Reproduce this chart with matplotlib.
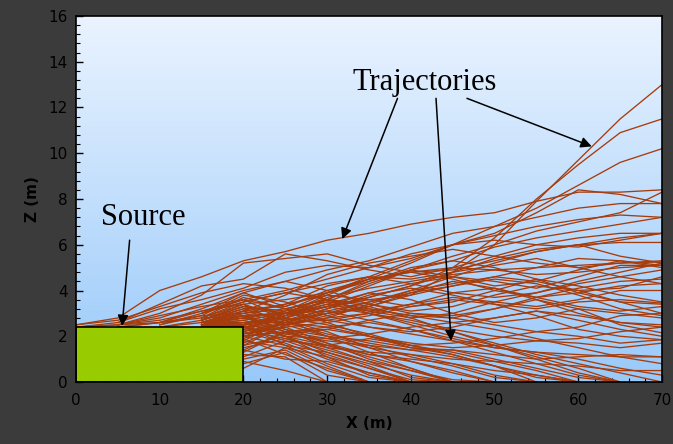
import numpy as np
import matplotlib.pyplot as plt
from matplotlib.patches import Rectangle
from matplotlib.ticker import MultipleLocator

nan = np.nan

# downwind distance of each sample (m)
x_full = [0, 5, 10, 15, 20, 25, 30, 35, 40, 45, 50, 55, 60, 65, 70]
x_edge = [15, 20, 25, 30, 35, 40, 45, 50, 55, 60, 65, 70]

# trajectories released over the roof of the source (z in m, on x_full)
roof_paths = [
    [2.5, 2.8, 4.0, 4.6, 5.3, 5.7, 6.2, 6.5, 6.9, 7.2, 7.4, 7.9, 8.3, 8.3, 8.4],
    [nan, 2.6, 3.4, 4.2, 4.5, 5.6, 5.3, 4.9, 4.6, 5.0, 5.5, 6.0, 6.3, 6.5, 6.5],
    [nan, 2.5, 3.0, 3.8, 5.2, 5.4, 5.6, 5.1, 4.8, 4.9, 5.3, 5.7, 6.0, 5.5, 5.2],
    [2.4, 2.6, 3.2, 3.6, 4.1, 4.8, 5.1, 5.0, 5.4, 6.0, 6.4, 6.8, 7.1, 7.3, 7.2],
    [nan, nan, 2.6, 3.2, 3.9, 4.4, 4.9, 5.3, 5.9, 6.5, 6.8, 7.2, 7.6, 7.8, 7.8],
    [nan, 2.5, 2.9, 3.3, 3.6, 4.0, 4.5, 5.0, 5.6, 6.0, 6.2, 6.0, 5.9, 6.2, 6.5],
    [nan, nan, 2.5, 3.0, 3.5, 3.9, 4.3, 4.6, 4.5, 4.8, 5.1, 5.4, 5.0, 4.6, 4.3],
    [nan, nan, nan, 2.6, 3.1, 3.8, 4.7, 5.2, 5.5, 5.8, 5.5, 5.2, 5.0, 5.2, 5.25],
    [2.4, 2.5, 2.7, 3.1, 3.4, 3.6, 3.9, 4.4, 4.9, 4.6, 4.2, 4.4, 4.9, 5.3, 5.1],
    [nan, 2.4, 2.6, 2.9, 3.0, 3.4, 3.8, 3.6, 3.3, 3.5, 4.0, 4.5, 4.2, 3.8, 3.5],
    [nan, nan, 2.4, 2.7, 3.3, 3.0, 2.7, 2.4, 2.1, 1.8, 1.5, 1.3, 1.2, 1.1, 1.1],
    [2.4, 2.5, 2.6, 2.8, 2.9, 2.5, 2.0, 1.6, 1.1, 0.7, 0.2, 0.0],
    [nan, 2.4, 2.6, 3.1, 3.6, 3.2, 2.6, 2.0, 1.5, 1.2, 0.7, 0.2, 0.0],
    [nan, nan, 2.5, 2.9, 3.8, 3.5, 2.9, 2.4, 2.2, 2.4, 2.8, 3.1, 2.9, 2.6, 2.5],
    [2.5, 2.7, 3.3, 3.9, 4.3, 4.1, 3.6, 3.0, 2.6, 2.2, 1.7, 1.2, 0.8, 0.4, 0.0],
    [nan, 2.5, 2.8, 3.4, 4.0, 4.4, 4.0, 3.4, 3.0, 2.9, 3.2, 3.7, 4.1, 4.4, 4.5],
    [nan, nan, nan, 2.5, 2.9, 2.2, 1.6, 1.2, 0.9, 0.5, 0.0],
    [nan, nan, 2.4, 2.6, 3.2, 2.7, 2.0, 1.3, 0.6, 0.0],
]

# trajectories crossing the downwind edge of the source (z in m, on x_edge)
edge_paths = [
    # lifted high by the end of the domain
    [2.5, 2.4, 2.7, 3.0, 3.3, 3.8, 4.8, 6.0, 7.9, 9.7, 11.5, 13.0],
    [2.5, 2.6, 2.6, 3.2, 3.7, 4.2, 5.0, 6.3, 8.0, 9.5, 10.9, 11.5],
    [2.6, 2.8, 3.1, 3.9, 4.5, 5.2, 6.0, 6.8, 7.6, 8.6, 9.6, 10.2],
    [2.7, 3.2, 3.3, 3.9, 4.6, 5.3, 6.0, 6.5, 7.4, 8.4, 8.2, 7.8],
    [2.6, 2.9, 3.0, 3.5, 4.2, 4.9, 5.5, 6.0, 6.6, 7.0, 7.4, 8.3],
    [2.4, 2.5, 2.9, 3.6, 4.4, 5.0, 5.3, 5.9, 6.3, 6.6, 6.9, 7.2],
    [2.0, 2.2, 2.6, 3.0, 3.5, 4.0, 4.6, 5.2, 5.7, 6.0, 6.1, 6.1],
    [2.8, 3.4, 2.8, 3.3, 3.7, 4.2, 4.8, 5.4, 5.8, 6.0, 6.3, 6.5],
    # middle of the plume
    [2.5, 2.7, 3.0, 3.7, 4.1, 4.4, 4.7, 4.9, 5.0, 5.1, 5.2, 5.3],
    [3.0, 3.6, 2.8, 3.3, 3.9, 4.3, 4.6, 4.4, 4.1, 4.6, 5.1, 5.1],
    [1.6, 2.0, 2.6, 3.1, 3.5, 3.9, 4.2, 4.6, 5.0, 5.4, 5.3, 5.0],
    [2.4, 2.5, 3.0, 3.8, 4.5, 4.8, 4.5, 4.0, 3.7, 3.9, 4.2, 4.3],
    [1.4, 1.8, 2.7, 3.2, 3.8, 4.1, 3.8, 3.4, 3.2, 3.5, 3.6, 3.45],
    [2.6, 3.0, 3.2, 3.6, 3.4, 3.1, 3.3, 3.8, 4.2, 4.0, 3.5, 3.0],
    [2.0, 2.3, 2.9, 3.4, 3.9, 3.6, 3.0, 2.6, 2.8, 3.2, 3.0, 2.8],
    [1.2, 1.6, 2.5, 2.9, 3.3, 3.9, 4.4, 4.1, 3.6, 3.0, 2.6, 2.4],
    [2.7, 3.3, 3.1, 3.5, 3.2, 2.9, 2.8, 3.2, 3.6, 3.2, 2.5, 2.15],
    [1.8, 2.1, 2.4, 2.6, 2.9, 3.3, 3.6, 3.4, 2.9, 2.3, 2.0, 1.85],
    [1.0, 1.4, 2.2, 2.3, 2.7, 3.0, 2.8, 2.5, 2.2, 2.4, 2.9, 3.0],
    [3.0, 3.9, 3.3, 4.0, 4.5, 4.8, 5.0, 4.9, 4.7, 4.8, 5.0, 5.1],
    [2.1, 2.4, 2.5, 2.8, 3.4, 4.0, 4.3, 4.6, 4.4, 4.0, 4.1, 4.6],
    [2.6, 3.1, 3.4, 4.2, 4.6, 4.3, 3.9, 3.7, 3.9, 4.4, 4.8, 5.2],
    [2.4, 2.6, 2.8, 3.6, 4.3, 4.9, 5.3, 5.0, 4.5, 3.9, 3.5, 3.4],
    [2.5, 2.9, 3.0, 3.3, 3.6, 3.8, 4.2, 4.5, 4.3, 3.8, 3.2, 2.9],
    [1.5, 1.9, 2.6, 2.7, 3.0, 3.4, 3.7, 3.5, 3.3, 3.6, 4.0, 4.0],
    [2.5, 2.8, 2.5, 3.0, 3.2, 2.9, 2.6, 2.8, 3.1, 2.7, 2.3, 2.0],
    [2.8, 3.5, 3.9, 3.6, 3.1, 2.8, 3.0, 3.5, 3.9, 4.3, 4.6, 4.9],
    [1.9, 2.2, 3.0, 3.4, 3.1, 3.4, 3.9, 4.1, 3.7, 3.3, 3.1, 3.3],
    # sinking towards the ground
    [2.5, 2.4, 1.8, 1.2, 0.6, 0.0],
    [1.9, 1.8, 1.5, 0.7, 0.0],
    [1.5, 1.2, 1.1, 0.0],
    [2.6, 2.6, 2.0, 1.6, 1.1, 0.6, 0.0],
    [2.1, 2.0, 2.2, 1.9, 1.5, 1.2, 0.8, 0.3, 0.0],
    [2.6, 2.9, 2.3, 2.0, 1.8, 1.5, 1.4, 1.0, 0.6, 0.2, 0.0],
    [1.7, 1.5, 1.9, 1.5, 1.3, 1.2, 1.0, 0.9, 0.8, 0.7, 0.5, 0.5],
    [2.5, 2.4, 2.1, 1.8, 1.6, 1.4, 1.4, 1.2, 1.0, 1.1, 1.2, 1.1],
    [2.6, 3.0, 2.6, 2.4, 2.0, 1.7, 1.5, 1.6, 1.8, 1.7, 1.5, 1.7],
    [2.3, 2.2, 1.7, 1.0, 0.4, 0.0],
    [1.3, 1.0, 1.4, 0.5, 0.0],
    [1.8, 1.6, 2.0, 1.3, 0.8, 0.3, 0.0],
    [2.5, 2.7, 2.2, 1.7, 1.2, 1.0, 0.8, 0.5, 0.3, 0.0],
    [2.4, 2.4, 2.8, 2.5, 2.1, 1.6, 1.3, 0.9, 0.5, 0.0],
    [2.7, 3.3, 3.0, 3.1, 2.7, 2.3, 1.9, 1.5, 1.3, 1.0, 0.6, 0.3],
    [2.4, 2.5, 2.9, 3.3, 3.0, 2.5, 2.0, 1.6, 1.1, 0.6, 0.0],
    [1.9, 1.7, 2.5, 2.8, 3.0, 2.7, 2.3, 2.0, 1.8, 1.9, 2.2, 2.4],
    [2.2, 2.0, 1.6, 0.8, 0.2, 0.0],
    [1.6, 1.3, 2.2, 2.4, 2.6, 2.3, 1.8, 1.3, 0.8, 0.3, 0.0],
    [2.5, 2.4, 2.0, 1.9, 2.1, 2.4, 2.6, 2.3, 1.9, 1.5, 1.1, 0.8],
    [2.8, 3.7, 3.2, 3.6, 3.3, 2.8, 2.2, 1.6, 1.0, 0.4, 0.0],
    [1.1, 0.8, 1.3, 0.3, 0.0],
    [2.2, 2.3, 1.9, 1.4, 0.9, 0.5, 0.1, 0.0],
    [2.5, 2.8, 2.3, 1.5, 0.9, 0.2, 0.0],
    [2.6, 3.1, 2.7, 2.2, 1.5, 0.9, 0.4, 0.0],
    [1.3, 1.1, 1.8, 1.6, 1.9, 1.6, 1.2, 0.7, 0.3, 0.0],
    [2.4, 2.6, 2.1, 2.3, 2.0, 1.6, 1.7, 1.9, 2.2, 2.0, 1.7, 1.85],
    [0.9, 0.6, 1.5, 1.1, 0.6, 0.1, 0.0],
    [2.0, 2.1, 2.6, 2.1, 1.7, 1.4, 1.1, 0.7, 0.0],
    [2.0, 1.9, 1.2, 0.6, 0.0],
    [2.5, 2.5, 1.6, 1.3, 0.7, 0.0],
    [1.2, 0.9, 0.5, 0.0],
    [2.7, 3.4, 2.4, 1.7, 1.0, 0.5, 0.0],
    [1.6, 1.4, 1.0, 0.9, 0.4, 0.0],
    [2.5, 2.9, 2.0, 1.1, 0.3, 0.0],
]

source_x = [0, 20]
source_top = 2.4

line_color = '#a63c0c'

fig = plt.figure(figsize=(6.73, 4.44), dpi=100, facecolor='#3b3b3b')
ax = fig.add_axes([0.113, 0.1396, 0.8707, 0.8244])

# sky-like gradient behind the data
grad = np.linspace(0, 1, 256).reshape(-1, 1)
top_c = np.array([0.92, 0.955, 1.0])
bot_c = np.array([0.60, 0.79, 0.98])
img = top_c * (1 - grad)[..., None] + bot_c * grad[..., None]
ax.imshow(img, extent=[0, 70, 0, 16], aspect='auto', origin='upper', zorder=0)

for z in roof_paths:
    ax.plot(x_full[:len(z)], z, color=line_color, lw=0.95, zorder=2)
for z in edge_paths:
    ax.plot(x_edge[:len(z)], z, color=line_color, lw=0.95, zorder=2)

ax.add_patch(Rectangle((source_x[0], 0), source_x[1] - source_x[0], source_top,
                       facecolor='#99cc00', edgecolor='black', lw=1.2, zorder=3))

ax.set_xlim(0, 70)
ax.set_ylim(0, 16)
ax.xaxis.set_major_locator(MultipleLocator(10))
ax.xaxis.set_minor_locator(MultipleLocator(2))
ax.yaxis.set_major_locator(MultipleLocator(2))
ax.yaxis.set_minor_locator(MultipleLocator(0.4))
ax.tick_params(which='both', direction='in', colors='black', labelcolor='black',
               labelsize=11)
ax.tick_params(which='major', length=5, width=1)
ax.tick_params(which='minor', length=3, width=0.8)
ax.tick_params(axis='x', pad=8)
ax.tick_params(axis='y', pad=6)
for s in ax.spines.values():
    s.set_color('black')
    s.set_linewidth(1.2)
    s.set_zorder(4)

ax.set_xlabel('X (m)', fontsize=11, fontweight='bold', color='black', labelpad=6)
ax.set_ylabel('Z (m)', fontsize=11, fontweight='bold', color='black', labelpad=6)

serif = 'Liberation Serif'
arrow = dict(arrowstyle='-|>', color='black', lw=1.1, mutation_scale=16,
             shrinkA=0, shrinkB=0)

ax.text(41.6, 13.1, 'Trajectories', fontsize=22, family=serif,
        ha='center', va='center', zorder=5)
ax.annotate('', xy=(31.8, 6.25), xytext=(38.4, 12.4), arrowprops=arrow, zorder=5)
ax.annotate('', xy=(44.8, 1.8), xytext=(43.0, 12.4), arrowprops=arrow, zorder=5)
ax.annotate('', xy=(61.6, 10.3), xytext=(46.7, 12.4), arrowprops=arrow, zorder=5)

ax.text(8.0, 7.2, 'Source', fontsize=22, family=serif,
        ha='center', va='center', zorder=5)
ax.annotate('', xy=(5.5, 2.45), xytext=(6.4, 6.2), arrowprops=arrow, zorder=5)

fig.savefig('out.png', dpi=100, facecolor=fig.get_facecolor())
